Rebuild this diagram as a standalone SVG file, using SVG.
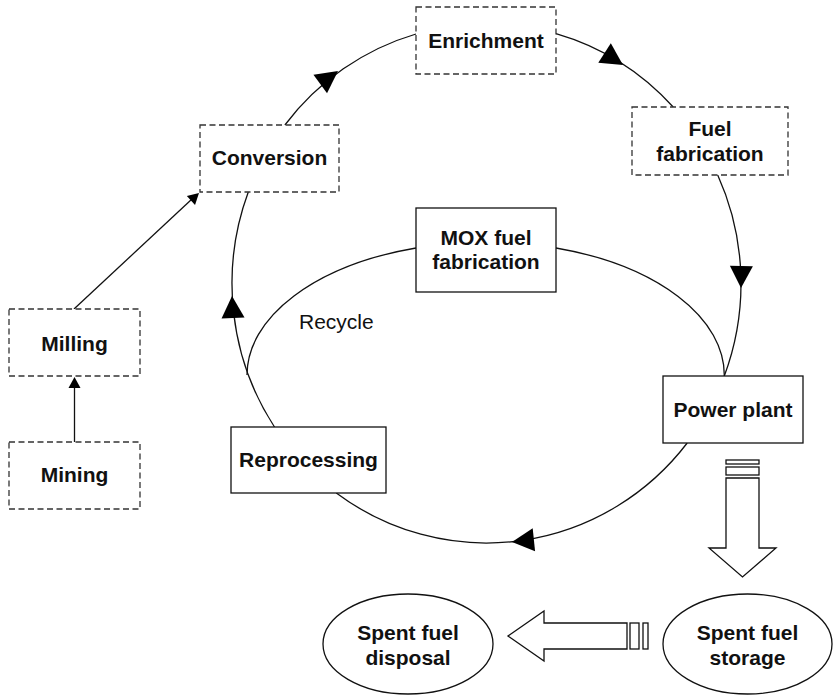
<svg xmlns="http://www.w3.org/2000/svg" xmlns:xlink="http://www.w3.org/1999/xlink" width="834" height="696" viewBox="0 0 834 696">
<style>
  .lbl { font-family: "Liberation Sans", Arial, sans-serif; font-size: 21px; font-weight: bold; fill: #111; text-anchor: middle; }
  .plain { font-family: "Liberation Sans", Arial, sans-serif; font-size: 21px; fill: #111; }
  .dbox { fill: #fff; stroke: #333; stroke-width: 1.3; stroke-dasharray: 6 3.5; }
  .sbox { fill: #fff; stroke: #111; stroke-width: 1.3; }
  .conn { fill: none; stroke: #111; stroke-width: 1.3; }
  .blk { fill: #fff; stroke: #111; stroke-width: 1.3; stroke-linejoin: miter; }
  .ah { fill: #000; }
</style>
<defs>
  <path id="ah" d="M0,0 L-22,-11.5 L-22,11.5 Z"/>
  <path id="ahs" d="M0,0 L-11,-6 L-11,6 Z"/>
</defs>
<rect width="834" height="696" fill="#fff"/>

<g id="connectors">
  <!-- main cycle arcs -->
  <path class="conn" d="M284.9,125 A254.5,259.6 0 0 1 416,34"/>
  <path class="conn" d="M556,33.6 A254.5,259.6 0 0 1 673.2,107"/>
  <path class="conn" d="M717.7,175 A254.5,259.6 0 0 1 724.3,376"/>
  <path class="conn" d="M687.2,443 A254.5,259.6 0 0 1 336.3,493"/>
  <path class="conn" d="M274.5,427 A254.5,259.6 0 0 1 248.3,192"/>
  <!-- recycle loop -->
  <path class="conn" d="M247,375 A238.5,133 0 0 1 416,248"/>
  <path class="conn" d="M556,248 A238.5,133 0 0 1 724.3,376"/>
  <!-- mining -> milling, milling -> conversion -->
  <line class="conn" x1="74.5" y1="442" x2="74.5" y2="386"/>
  <line class="conn" x1="74" y1="309" x2="192" y2="199"/>
  <!-- arrowheads -->
  <use class="ah" xlink:href="#ah" transform="translate(338,71) rotate(-36.2)"/>
  <use class="ah" xlink:href="#ah" transform="translate(623,65) rotate(33)"/>
  <use class="ah" xlink:href="#ah" transform="translate(741,288) rotate(91)"/>
  <use class="ah" xlink:href="#ah" transform="translate(512,542) rotate(174.1)"/>
  <use class="ah" xlink:href="#ah" transform="translate(232,296) rotate(-92.7)"/>
  <use class="ah" xlink:href="#ahs" transform="translate(74.5,377) rotate(-90)"/>
  <use class="ah" xlink:href="#ahs" transform="translate(199,193) rotate(-42.9)"/>
  <!-- block arrow down: power plant -> storage -->
  <rect class="blk" x="726" y="460" width="33" height="4"/>
  <rect class="blk" x="726" y="467" width="33" height="8"/>
  <path class="blk" d="M726,478 L759,478 L759,548 L776,548 L742.5,577 L709,548 L726,548 Z"/>
  <!-- block arrow left: storage -> disposal -->
  <rect class="blk" x="643" y="623" width="5" height="26"/>
  <rect class="blk" x="630" y="623" width="9" height="26"/>
  <path class="blk" d="M627,623 L627,649 L544,649 L544,661 L508,636 L544,611 L544,623 Z"/>
</g>

<g id="enrichment">
  <rect class="dbox" x="416" y="7" width="140" height="67"/>
  <text class="lbl" x="486" y="48">Enrichment</text>
</g>
<g id="conversion">
  <rect class="dbox" x="200" y="125" width="139" height="67"/>
  <text class="lbl" x="269.5" y="165">Conversion</text>
</g>
<g id="fuel-fabrication">
  <rect class="dbox" x="632" y="107" width="156" height="68"/>
  <text class="lbl" x="710" y="136">Fuel</text>
  <text class="lbl" x="710" y="161">fabrication</text>
</g>
<g id="mox-fuel-fabrication">
  <rect class="sbox" x="416" y="208" width="140" height="84"/>
  <text class="lbl" x="486" y="245">MOX fuel</text>
  <text class="lbl" x="486" y="269">fabrication</text>
</g>
<g id="power-plant">
  <rect class="sbox" x="663" y="376" width="140" height="67"/>
  <text class="lbl" x="733" y="417">Power plant</text>
</g>
<g id="reprocessing">
  <rect class="sbox" x="231" y="427" width="155" height="66"/>
  <text class="lbl" x="308.5" y="467">Reprocessing</text>
</g>
<g id="milling">
  <rect class="dbox" x="9" y="309" width="131" height="67"/>
  <text class="lbl" x="74.5" y="351">Milling</text>
</g>
<g id="mining">
  <rect class="dbox" x="9" y="442" width="131" height="67"/>
  <text class="lbl" x="74.5" y="482">Mining</text>
</g>
<g id="recycle-label">
  <text class="plain" x="299" y="329">Recycle</text>
</g>
<g id="spent-fuel-storage">
  <ellipse class="sbox" cx="747.5" cy="644" rx="84.5" ry="50"/>
  <text class="lbl" x="747.5" y="640">Spent fuel</text>
  <text class="lbl" x="747.5" y="665">storage</text>
</g>
<g id="spent-fuel-disposal">
  <ellipse class="sbox" cx="408" cy="644" rx="85" ry="50"/>
  <text class="lbl" x="408" y="640">Spent fuel</text>
  <text class="lbl" x="408" y="665">disposal</text>
</g>
</svg>
